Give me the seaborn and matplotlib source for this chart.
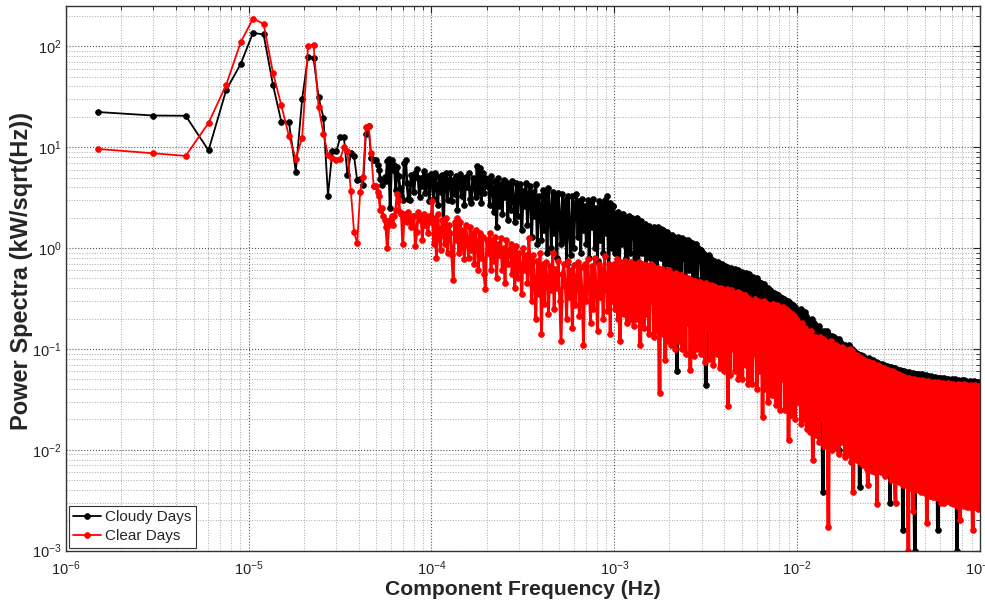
import numpy as np
import pandas as pd
import matplotlib
matplotlib.use("Agg")
import matplotlib.pyplot as plt
import seaborn as sns

# ---------------- data ----------------
df_hz = 1.51e-6  # frequency resolution (spacing of the first spectral lines)

# individually resolvable lines, k = 1..32
cloudy_low = [22.3, 20.6, 20.5, 9.3, 37, 67, 136, 131, 41.7, 17.9, 17.9, 5.7, 30, 79, 76.7,
              31.2, 19.5, 3.3, 9.1, 9.1, 12.6, 12.5, 5.3, 8.7, 8.1, 4.7, 4.8, 4.2, 13.5, 16.1,
              7.8, 7.5]
clear_low = [9.6, 8.7, 8.2, 17.4, 41.7, 110, 188, 167, 55, 26, 13, 7.7, 12.4, 101, 103,
             25, 13.5, 8.4, 7.8, 7.4, 7.7, 10, 9.1, 3.7, 1.43, 1.12, 3.6, 5.1, 15.9, 16.4,
             8.7, 4.1]

# band 5e-5 .. 1e-3 Hz
cloudy_b = [7.5, 6.6, 6.0, 4.8, 4.2, 4.7, 5.1, 4.6, 7.3, 7.6,
            2.5, 7.4, 6.0, 6.7, 3.8, 6.4, 5.2, 3.9, 3.3, 3.0,
            7.0, 7.5, 4.4, 3.1, 3.0, 5.3, 5.1, 3.6, 5.5, 6.1,
            4.9, 3.2, 5.0, 4.1, 5.8, 3.5, 5.2, 4.6, 2.9, 5.4,
            4.8, 3.1, 5.5, 4.2, 2.7, 5.1, 3.6, 5.3, 1.6, 4.9,
            5.5, 3.0, 4.4, 5.6, 2.9, 4.7, 3.4, 5.2, 2.4, 4.6,
            5.4, 3.3, 4.9, 2.7, 5.1, 4.0, 5.5, 3.1, 2.8, 5.0,
            4.4, 3.2, 6.5, 3.6, 6.2, 2.8, 5.6, 3.5, 5.0, 4.1,
            4.8, 2.7, 5.2, 3.9, 2.3, 4.6, 1.6, 4.9, 2.6, 4.3,
            2.2, 4.7, 3.2, 4.5, 1.9, 4.2, 2.4, 4.6, 3.0, 1.8,
            4.4, 2.1, 3.9, 4.3, 1.5, 3.7, 2.6, 4.4, 1.7, 3.5,
            4.1, 1.3, 3.6, 2.1, 4.3, 1.1, 3.3, 2.6, 1.2, 3.8,
            1.5, 3.4, 0.9, 3.9, 2.4, 1.0, 3.6, 1.4, 3.2, 0.8,
            3.5, 1.9, 1.1, 3.4, 1.2, 3.0, 0.7, 3.3, 1.6, 0.85,
            3.3, 1.0, 2.7, 3.4, 1.3, 2.9, 0.9, 3.1, 1.5, 2.6,
            1.1, 3.0, 0.8, 2.8, 1.6, 3.1, 1.0, 2.5, 0.75, 2.9,
            1.2, 2.7, 0.9, 3.0, 1.4, 3.3, 0.48, 2.8, 1.0, 2.6]
clear_b = [4.1, 3.6, 3.3, 2.4, 2.5, 2.1, 1.9, 1.6, 1.0, 1.7,
           1.9, 2.1, 1.7, 2.1, 2.4, 3.4, 3.0, 2.3, 2.2, 1.1,
           2.2, 2.1, 1.8, 2.3, 2.1, 1.6, 2.1, 2.1, 1.05, 1.45,
           2.3, 1.9, 2.1, 1.2, 2.2, 1.7, 2.0, 1.4, 2.1, 1.8,
           2.9, 1.1, 2.0, 0.8, 2.2, 1.3, 0.95, 1.9, 1.6, 1.1,
           2.0, 0.9, 1.7, 1.4, 0.85, 0.48, 1.8, 1.2, 2.0, 0.9,
           1.8, 1.0, 1.5, 0.78, 1.7, 1.2, 0.8, 1.6, 0.95, 1.4,
           0.7, 1.5, 1.1, 0.6, 1.4, 0.8, 1.3, 0.55, 0.39, 1.2,
           0.9, 1.4, 0.6, 1.2, 0.75, 1.3, 0.5, 1.1, 0.85, 1.25,
           0.6, 1.0, 0.45, 1.2, 0.7, 0.95, 1.1, 0.55, 1.0, 0.4,
           1.05, 0.5, 0.9, 0.65, 0.35, 1.0, 0.6, 0.85, 0.45, 1.25,
           0.7, 0.3, 0.85, 0.45, 0.2, 0.75, 0.35, 0.9, 0.14, 0.7,
           0.28, 0.72, 0.5, 0.22, 0.66, 0.38, 0.9, 0.25, 0.62, 0.4,
           0.75, 0.3, 0.12, 0.55, 0.7, 0.42, 0.2, 0.75, 0.33, 0.6,
           0.16, 0.68, 0.27, 0.5, 0.72, 0.21, 0.65, 0.35, 0.11, 0.7,
           0.3, 0.78, 0.45, 0.18, 0.66, 0.25, 0.8, 0.4, 0.15, 0.7,
           0.33, 0.62, 0.2, 0.83, 0.5, 0.24, 0.7, 0.14, 0.65, 0.3]

# band 1e-3 .. 1e-2 Hz
cloudy_c = [2.2, 0.9, 2.0, 1.4, 2.3, 0.7, 1.8, 2.1, 1.1, 2.2,
            1.2, 2.0, 0.8, 1.9, 1.5, 2.1, 0.9, 1.7, 2.0, 1.3,
            1.9, 0.7, 1.8, 1.2, 2.0, 0.6, 1.7, 1.4, 1.85, 0.9,
            1.7, 1.1, 1.75, 0.6, 1.6, 1.3, 1.65, 0.8, 1.55, 1.2,
            0.7, 1.6, 1.0, 1.5, 0.55, 1.6, 1.2, 1.45, 0.8, 1.55,
            1.1, 1.5, 0.6, 1.4, 1.0, 1.45, 0.7, 1.35, 1.2, 0.5,
            1.35, 0.9, 1.3, 0.6, 1.25, 0.06, 1.3, 1.0, 1.2, 0.5,
            1.25, 0.8, 1.15, 1.2, 0.45, 1.1, 0.9, 1.2, 0.6, 1.15,
            1.0, 1.13, 0.5, 1.05, 0.8, 1.1, 0.4, 1.0, 0.9, 0.75,
            0.95, 0.5, 0.9, 0.7, 0.85, 0.044, 0.8, 0.55, 0.85, 0.4,
            0.78, 0.5, 0.72, 0.35, 0.75, 0.6, 0.7, 0.3, 0.72, 0.5,
            0.68, 0.4, 0.7, 0.55, 0.25, 0.66, 0.45, 0.65, 0.3, 0.62,
            0.5, 0.64, 0.35, 0.6, 0.45, 0.62, 0.2, 0.58, 0.4, 0.6,
            0.3, 0.57, 0.45, 0.58, 0.25, 0.55, 0.4, 0.56, 0.3, 0.52,
            0.55, 0.35, 0.5, 0.2, 0.52, 0.4, 0.48, 0.25, 0.5, 0.3,
            0.46, 0.2, 0.45, 0.35, 0.42, 0.15, 0.44, 0.3, 0.4, 0.22,
            0.4, 0.28, 0.38, 0.12, 0.37, 0.25, 0.36, 0.18, 0.35, 0.27,
            0.34, 0.16, 0.33, 0.24, 0.32, 0.1, 0.31, 0.2, 0.3, 0.14,
            0.3, 0.22, 0.29, 0.12, 0.28, 0.19, 0.27, 0.09, 0.26, 0.17]
clear_c = [0.7, 0.25, 0.6, 0.78, 0.2, 0.5, 0.12, 0.72, 0.3, 0.65,
           0.22, 0.74, 0.4, 0.18, 0.68, 0.55, 0.2, 0.72, 0.35, 0.62,
           0.17, 0.7, 0.45, 0.2, 0.66, 0.3, 0.72, 0.11, 0.6, 0.25,
           0.7, 0.16, 0.55, 0.68, 0.22, 0.62, 0.14, 0.5, 0.69, 0.3,
           0.66, 0.13, 0.58, 0.4, 0.15, 0.64, 0.25, 0.037, 0.6, 0.2,
           0.62, 0.14, 0.5, 0.078, 0.58, 0.3, 0.12, 0.6, 0.45, 0.11,
           0.55, 0.2, 0.52, 0.1, 0.56, 0.35, 0.12, 0.5, 0.25, 0.54,
           0.1, 0.5, 0.3, 0.52, 0.09, 0.48, 0.18, 0.5, 0.4, 0.062,
           0.48, 0.15, 0.45, 0.085, 0.47, 0.3, 0.1, 0.44, 0.2, 0.46,
           0.09, 0.44, 0.25, 0.42, 0.075, 0.45, 0.16, 0.4, 0.3, 0.08,
           0.43, 0.12, 0.41, 0.07, 0.42, 0.22, 0.38, 0.09, 0.4, 0.3,
           0.065, 0.4, 0.15, 0.38, 0.06, 0.36, 0.2, 0.39, 0.027, 0.35,
           0.055, 0.38, 0.25, 0.1, 0.36, 0.06, 0.34, 0.16, 0.37, 0.05,
           0.33, 0.12, 0.35, 0.05, 0.31, 0.2, 0.34, 0.07, 0.32, 0.045,
           0.31, 0.14, 0.3, 0.045, 0.29, 0.09, 0.31, 0.22, 0.04, 0.3,
           0.06, 0.29, 0.15, 0.28, 0.021, 0.3, 0.04, 0.27, 0.1, 0.28,
           0.03, 0.27, 0.18, 0.26, 0.035, 0.28, 0.07, 0.25, 0.028, 0.27,
           0.12, 0.26, 0.025, 0.24, 0.05, 0.26, 0.15, 0.025, 0.25, 0.06,
           0.24, 0.0126, 0.23, 0.1, 0.022, 0.22, 0.04, 0.21, 0.02, 0.2]

# band 1e-2 .. 1e-1 Hz
cloudy_d = [0.24, 0.05, 0.22, 0.1, 0.25, 0.03, 0.2, 0.12, 0.23, 0.04,
            0.21, 0.07, 0.2, 0.02, 0.19, 0.09, 0.2, 0.03, 0.18, 0.06,
            0.17, 0.03, 0.16, 0.08, 0.17, 0.015, 0.15, 0.06, 0.0038, 0.15,
            0.14, 0.05, 0.15, 0.012, 0.14, 0.04, 0.13, 0.02, 0.135, 0.06,
            0.13, 0.02, 0.125, 0.05, 0.12, 0.01, 0.125, 0.035, 0.115, 0.02,
            0.11, 0.045, 0.11, 0.012, 0.105, 0.03, 0.11, 0.02, 0.1, 0.05,
            0.1, 0.015, 0.095, 0.03, 0.092, 0.01, 0.09, 0.04, 0.0043, 0.088,
            0.085, 0.02, 0.086, 0.035, 0.082, 0.009, 0.08, 0.025, 0.081, 0.012,
            0.078, 0.03, 0.077, 0.008, 0.075, 0.02, 0.074, 0.035, 0.072, 0.01,
            0.07, 0.025, 0.071, 0.007, 0.069, 0.03, 0.068, 0.012, 0.067, 0.02,
            0.066, 0.003, 0.066, 0.025, 0.064, 0.009, 0.065, 0.03, 0.063, 0.006,
            0.062, 0.02, 0.062, 0.012, 0.06, 0.0016, 0.061, 0.025, 0.059, 0.008,
            0.058, 0.03, 0.059, 0.006, 0.057, 0.02, 0.058, 0.01, 0.001, 0.056,
            0.057, 0.015, 0.056, 0.03, 0.055, 0.005, 0.056, 0.02, 0.054, 0.009,
            0.055, 0.025, 0.054, 0.006, 0.053, 0.018, 0.054, 0.03, 0.052, 0.004,
            0.053, 0.012, 0.052, 0.0016, 0.051, 0.02, 0.052, 0.008, 0.05, 0.03,
            0.051, 0.005, 0.05, 0.018, 0.05, 0.01, 0.049, 0.025, 0.05, 0.004,
            0.049, 0.015, 0.05, 0.007, 0.001, 0.049, 0.02, 0.048, 0.009, 0.049,
            0.048, 0.03, 0.049, 0.005, 0.048, 0.015, 0.047, 0.006, 0.048, 0.02,
            0.047, 0.008, 0.048, 0.025, 0.046, 0.004, 0.047, 0.0035, 0.046, 0.012]
clear_d = [0.19, 0.03, 0.17, 0.06, 0.018, 0.18, 0.09, 0.02, 0.16, 0.04,
           0.15, 0.016, 0.14, 0.05, 0.015, 0.15, 0.03, 0.0079, 0.13, 0.06,
           0.014, 0.13, 0.04, 0.12, 0.012, 0.13, 0.07, 0.02, 0.125, 0.011,
           0.12, 0.05, 0.115, 0.013, 0.0017, 0.11, 0.03, 0.12, 0.01, 0.11,
           0.06, 0.011, 0.11, 0.025, 0.105, 0.009, 0.1, 0.04, 0.012, 0.105,
           0.02, 0.1, 0.0085, 0.098, 0.05, 0.095, 0.009, 0.1, 0.03, 0.0075,
           0.095, 0.0038, 0.09, 0.02, 0.088, 0.008, 0.085, 0.045, 0.0075, 0.082,
           0.015, 0.08, 0.007, 0.078, 0.03, 0.076, 0.0065, 0.0045, 0.075, 0.02,
           0.073, 0.0062, 0.072, 0.04, 0.07, 0.006, 0.068, 0.0029, 0.069, 0.015,
           0.066, 0.006, 0.065, 0.025, 0.064, 0.0055, 0.063, 0.04, 0.006, 0.062,
           0.01, 0.06, 0.005, 0.061, 0.03, 0.059, 0.005, 0.003, 0.057, 0.015,
           0.056, 0.0048, 0.055, 0.02, 0.054, 0.0045, 0.053, 0.035, 0.0045, 0.052,
           0.009, 0.001, 0.051, 0.0042, 0.05, 0.025, 0.0025, 0.05, 0.004, 0.049,
           0.012, 0.049, 0.004, 0.048, 0.03, 0.0038, 0.049, 0.008, 0.048, 0.0037,
           0.047, 0.0019, 0.048, 0.015, 0.047, 0.0035, 0.046, 0.025, 0.0034, 0.047,
           0.006, 0.046, 0.0033, 0.047, 0.02, 0.046, 0.003, 0.045, 0.01, 0.046,
           0.003, 0.045, 0.035, 0.0031, 0.046, 0.007, 0.045, 0.003, 0.044, 0.015,
           0.045, 0.0029, 0.044, 0.025, 0.0028, 0.045, 0.006, 0.002, 0.044, 0.012,
           0.044, 0.0028, 0.045, 0.018, 0.044, 0.0027, 0.043, 0.04, 0.0027, 0.044,
           0.005, 0.0016, 0.043, 0.0027, 0.044, 0.02, 0.042, 0.0026, 0.043, 0.008]

labels = ["Cloudy Days", "Clear Days"]
colors = ["black", "red"]
x_ticks = [1e-6, 1e-5, 1e-4, 1e-3, 1e-2, 1e-1]
y_ticks = [1e-3, 1e-2, 1e-1, 1e0, 1e1, 1e2]


def spectrum(low, b, c, d):
    f = np.concatenate([
        df_hz * np.arange(1, len(low) + 1),
        np.geomspace(df_hz * (len(low) + 1), 1e-3, len(b), endpoint=False),
        np.geomspace(1e-3, 1e-2, len(c), endpoint=False),
        np.geomspace(1e-2, 1e-1, len(d)),
    ])
    v = np.concatenate([low, b, c, d])
    part = np.concatenate([np.full(len(low), 0), np.full(len(b), 1),
                           np.full(len(c), 2), np.full(len(d), 2)])
    return pd.DataFrame({"freq": f, "power": v, "part": part})


series = [spectrum(cloudy_low, cloudy_b, cloudy_c, cloudy_d),
          spectrum(clear_low, clear_b, clear_c, clear_d)]

# ---------------- style ----------------
sns.set_style("white")
plt.rcParams["font.family"] = ["Liberation Sans", "DejaVu Sans"]
plt.rcParams["mathtext.fontset"] = "custom"
plt.rcParams["mathtext.rm"] = "Liberation Sans:bold"
plt.rcParams["mathtext.it"] = "Liberation Sans:bold"
plt.rcParams["mathtext.bf"] = "Liberation Sans:bold"

fig = plt.figure(figsize=(9.85, 6.01), dpi=100)
ax = fig.add_axes([0.0667, 0.0837, 0.9283, 0.9063])

# the dense part of each spectrum is thousands of overlapping lines in the
# original; it is drawn with a heavier stroke so the band reads as solid
part_width = {0: 1.3, 1: 2.0, 2: 2.6}
for data, lab, col in zip(series, labels, colors):
    for p in (0, 1, 2):
        idx = np.flatnonzero(data["part"].to_numpy() == p)
        lo = max(idx[0] - 1, 0)
        seg = data.iloc[lo: idx[-1] + 1]
        sns.lineplot(data=seg, x="freq", y="power", ax=ax, color=col,
                     label=lab if p == 0 else None,
                     estimator=None, sort=False, marker="o", markersize=4.2,
                     markeredgecolor=col, markeredgewidth=0.5,
                     linewidth=part_width[p])

ax.set_xscale("log")
ax.set_yscale("log")
ax.set_xlim(1e-6, 1e-1)
ax.set_ylim(1e-3, 251)
ax.set_xticks(x_ticks)
ax.set_yticks(y_ticks)

ax.grid(True, which="major", linestyle=":", color="#555555", linewidth=0.8)
ax.grid(True, which="minor", linestyle=":", color="#aaaaaa", linewidth=0.7)
ax.set_axisbelow(True)

ax.tick_params(which="both", direction="in", top=True, right=True, colors="#222222")
ax.tick_params(which="major", length=5, labelsize=10.5)
ax.tick_params(axis="x", which="major", pad=6)
ax.tick_params(axis="y", which="major", pad=3)
ax.tick_params(which="minor", length=3)
for sp in ax.spines.values():
    sp.set_color("#333333")
    sp.set_linewidth(1.0)

ax.set_xlabel("Component Frequency (Hz)", fontsize=15.2, fontweight="bold", labelpad=2)
ax.set_ylabel("Power Spectra (kW/sqrt(Hz))", fontsize=17, fontweight="bold")
ax.yaxis.set_label_coords(-0.036, 0.513)

leg = ax.legend(loc="lower left", fontsize=11, frameon=True, fancybox=False,
                edgecolor="#333333", framealpha=1, handlelength=1.8, borderpad=0.3,
                labelspacing=0.3, handletextpad=0.3, borderaxespad=0.2)
leg.get_frame().set_linewidth(0.8)

fig.savefig("out.png", dpi=100, facecolor="white")
